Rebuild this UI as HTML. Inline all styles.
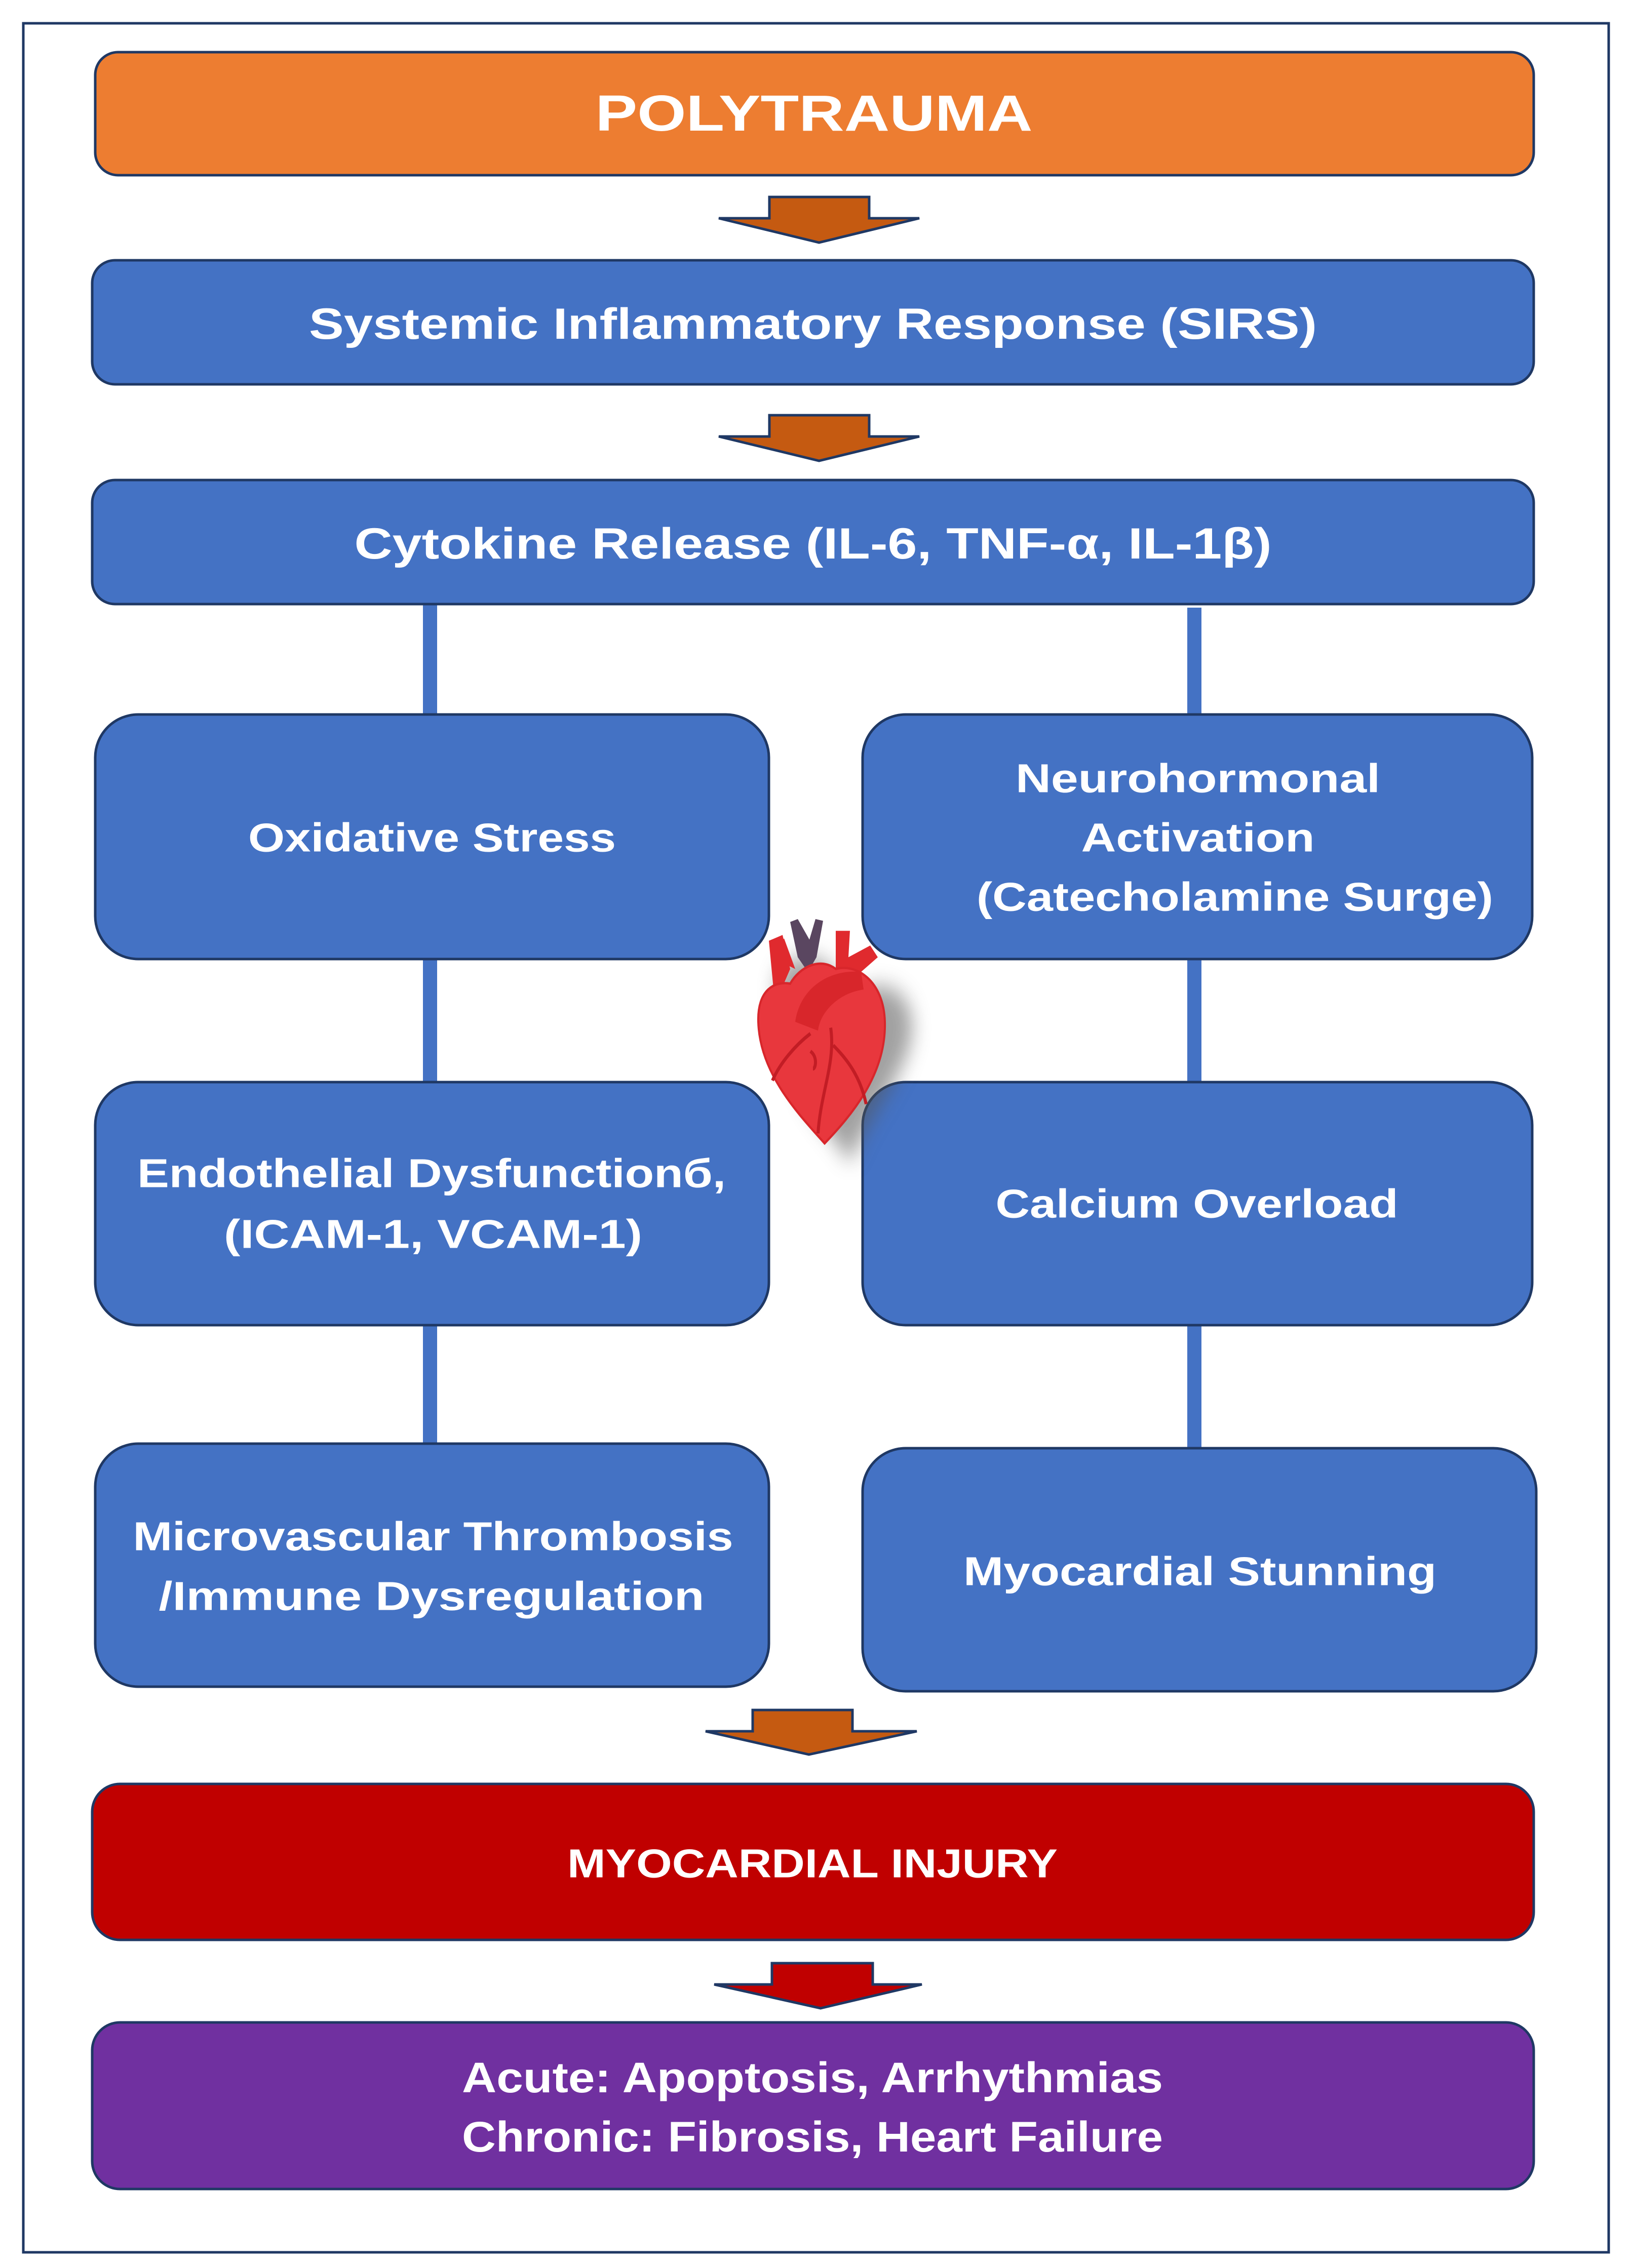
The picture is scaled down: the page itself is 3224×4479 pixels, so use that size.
<!DOCTYPE html>
<html><head><meta charset="utf-8"><style>
html,body{margin:0;padding:0;background:#fff;}
svg{display:block;}
text{font-family:"Liberation Sans",sans-serif;font-weight:bold;fill:#fff;text-anchor:middle;dominant-baseline:central;}
</style></head><body>
<svg width="3224" height="4479" viewBox="0 0 3224 4479" xmlns="http://www.w3.org/2000/svg">
<defs>
<filter id="sh" x="-20%" y="-20%" width="140%" height="140%"><feGaussianBlur stdDeviation="3"/></filter>
<filter id="hs" x="-50%" y="-50%" width="200%" height="200%"><feGaussianBlur stdDeviation="18"/></filter>
</defs>
<rect x="46" y="46" width="3130" height="4402" fill="#fff" stroke="#1f3864" stroke-width="5"/>

<g stroke="#4472c4" stroke-width="28">
<line x1="849" y1="1190" x2="849" y2="1415"/>
<line x1="849" y1="1890" x2="849" y2="2140"/>
<line x1="849" y1="2612" x2="849" y2="2855"/>
<line x1="2358" y1="1200" x2="2358" y2="1415"/>
<line x1="2358" y1="1890" x2="2358" y2="2140"/>
<line x1="2358" y1="2612" x2="2358" y2="2865"/>
</g>

<g stroke="#1f3864" stroke-width="5">
<rect x="188" y="103" width="2840" height="243" rx="45" fill="#ed7d31"/>
<rect x="182" y="514" width="2846" height="245" rx="45" fill="#4472c4"/>
<rect x="182" y="948" width="2846" height="245" rx="45" fill="#4472c4"/>
<rect x="188" y="1411" width="1330" height="483" rx="85" fill="#4472c4"/>
<rect x="1703" y="1411" width="1322" height="483" rx="85" fill="#4472c4"/>
<rect x="188" y="2137" width="1330" height="480" rx="85" fill="#4472c4"/>
<rect x="1703" y="2137" width="1322" height="480" rx="85" fill="#4472c4"/>
<rect x="188" y="2851" width="1330" height="480" rx="85" fill="#4472c4"/>
<rect x="1703" y="2860" width="1330" height="480" rx="85" fill="#4472c4"/>
<rect x="182" y="3523" width="2846" height="308" rx="55" fill="#c00000"/>
<rect x="182" y="3994" width="2846" height="329" rx="55" fill="#7030a0"/>
</g>

<g stroke="#1f3864" stroke-width="5" stroke-linejoin="miter">
<polygon points="1519,389 1716,389 1716,431 1815,431 1617,479 1419,431 1519,431" fill="#c55a11"/>
<polygon points="1519,820 1716,820 1716,862 1815,862 1617,910 1419,862 1519,862" fill="#c55a11"/>
<polygon points="1486,3377 1683,3377 1683,3419 1810,3419 1597,3465 1393,3419 1486,3419" fill="#c55a11"/>
<polygon points="1524,3877 1723,3877 1723,3919 1820,3919 1620,3966 1410,3919 1524,3919" fill="#c00000"/>
</g>

<text x="1607" y="224" font-size="100" textLength="863" lengthAdjust="spacingAndGlyphs">POLYTRAUMA</text>
<text x="1605" y="640" font-size="86" textLength="1990" lengthAdjust="spacingAndGlyphs">Systemic Inflammatory Response (SIRS)</text>
<text x="1605" y="1074" font-size="86" textLength="1811" lengthAdjust="spacingAndGlyphs">Cytokine Release (IL-6, TNF-α, IL-1β)</text>
<text x="853" y="1654" font-size="80" textLength="726" lengthAdjust="spacingAndGlyphs">Oxidative Stress</text>
<text x="2365" y="1537" font-size="80" textLength="720" lengthAdjust="spacingAndGlyphs">Neurohormonal</text>
<text x="2365" y="1654" font-size="80" textLength="461" lengthAdjust="spacingAndGlyphs">Activation</text>
<text x="2438" y="1771" font-size="80" textLength="1020" lengthAdjust="spacingAndGlyphs">(Catecholamine Surge)</text>
<text x="852" y="2317" font-size="80" textLength="1162" lengthAdjust="spacingAndGlyphs">Endothelial Dysfunctionб,</text>
<text x="855" y="2437" font-size="80" textLength="826" lengthAdjust="spacingAndGlyphs">(ICAM-1, VCAM-1)</text>
<text x="2363" y="2377" font-size="80" textLength="795" lengthAdjust="spacingAndGlyphs">Calcium Overload</text>
<text x="855" y="3034" font-size="80" textLength="1185" lengthAdjust="spacingAndGlyphs">Microvascular Thrombosis</text>
<text x="852" y="3152" font-size="80" textLength="1077" lengthAdjust="spacingAndGlyphs">/Immune Dysregulation</text>
<text x="2369" y="3103" font-size="80" textLength="934" lengthAdjust="spacingAndGlyphs">Myocardial Stunning</text>
<text x="1604" y="3680" font-size="80" textLength="968" lengthAdjust="spacingAndGlyphs">MYOCARDIAL INJURY</text>
<text x="1604" y="4103" font-size="84" textLength="1384" lengthAdjust="spacingAndGlyphs">Acute: Apoptosis, Arrhythmias</text>
<text x="1604" y="4220" font-size="84" textLength="1384" lengthAdjust="spacingAndGlyphs">Chronic: Fibrosis, Heart Failure</text>

<g transform="translate(0,1815) scale(1,1.16) translate(0,-1815)">
<path d="M1560,1990 C1520,1960 1520,1880 1590,1880 C1640,1880 1660,1920 1680,1960 C1720,1900 1810,1930 1800,2010 C1790,2080 1720,2140 1680,2230 C1640,2180 1600,2150 1580,2100 Z" fill="#555" opacity="0.55" filter="url(#hs)"/>
<path d="M1522,1880 L1548,1848 L1570,1900 Z" fill="#e02a2e"/>
<path d="M1560,1820 L1575,1815 L1598,1850 L1610,1815 L1625,1818 L1612,1880 L1595,1905 L1575,1880 Z" fill="#5a4660"/>
<path d="M1518,1852 L1545,1842 L1560,1900 L1530,1960 Z" fill="#e02a2e"/>
<path d="M1650,1835 L1678,1835 L1675,1880 L1718,1860 L1733,1880 L1700,1905 L1650,1910 Z" fill="#e02a2e"/>
<path d="M1628,2197 C1580,2150 1500,2080 1497,1990 C1495,1935 1530,1920 1560,1925 C1580,1895 1620,1880 1650,1900 C1690,1890 1745,1920 1747,1990 C1750,2080 1680,2150 1628,2197 Z" fill="#e8373d" stroke="#d8262b" stroke-width="4"/>
<path d="M1570,1990 C1580,1930 1640,1900 1700,1905 L1705,1935 C1660,1940 1620,1970 1615,2005 Z" fill="#d8262b"/>
<g stroke="#c21d25" stroke-width="6" fill="none">
<path d="M1640,2000 C1650,2060 1620,2110 1615,2180"/>
<path d="M1645,2030 C1680,2060 1700,2090 1710,2130"/>
<path d="M1600,2010 C1570,2030 1540,2060 1525,2090"/>
<path d="M1600,2040 C1615,2050 1610,2070 1605,2070"/>
</g>
</g>
</svg>
</body></html>
